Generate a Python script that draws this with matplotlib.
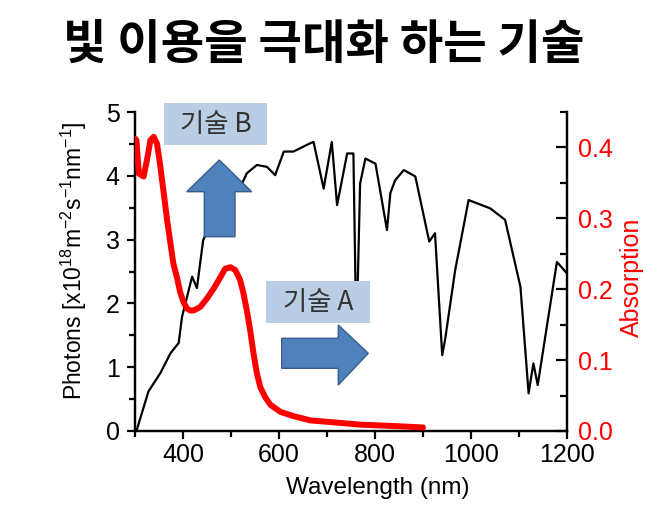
import numpy as np
import matplotlib
matplotlib.use('Agg')
import matplotlib.pyplot as plt
from matplotlib.patches import Polygon, Rectangle
from matplotlib.ticker import MultipleLocator

plt.rcParams['font.family'] = ['Liberation Sans', 'Noto Sans CJK KR']
plt.rcParams['mathtext.fontset'] = 'custom'
plt.rcParams['mathtext.rm'] = 'Liberation Sans'
plt.rcParams['mathtext.default'] = 'regular'

# solar photon flux (black)
wl_photon = [303, 328, 353, 374, 391, 398, 412, 419, 429, 442, 460, 490, 510, 523,
             533, 554, 575, 592, 610, 630, 665, 672, 693, 710, 721, 742, 755, 760,
             764, 769, 780, 801, 825, 832, 842, 860, 884, 913, 925, 940, 946, 967,
             995, 1040, 1071, 1103, 1120, 1130, 1139, 1179, 1200]
photons = [0.0, 0.62, 0.91, 1.22, 1.38, 1.79, 2.21, 2.42, 2.24, 2.99, 3.3, 3.6, 3.8, 3.88,
           4.04, 4.17, 4.14, 4.01, 4.38, 4.38, 4.51, 4.53, 3.80, 4.53, 3.54, 4.35, 4.35, 2.0,
           2.3, 3.88, 4.27, 4.19, 3.15, 3.73, 3.93, 4.09, 3.99, 2.97, 3.10, 1.19, 1.43, 2.52,
           3.62, 3.49, 3.31, 2.26, 0.59, 1.06, 0.72, 2.65, 2.47]

# absorption spectrum (red)
wl_abs = [301, 303, 308, 318, 326, 332, 339, 346, 353, 360, 367, 374, 380, 388, 394,
          401, 408, 415, 422, 436, 450, 464, 478, 488, 499, 509, 519, 526, 533, 540,
          547, 554, 561, 571, 582, 603, 630, 665, 700, 769, 840, 900]
absorption = [0.412, 0.41, 0.363, 0.359, 0.386, 0.410, 0.415, 0.405, 0.372, 0.335, 0.297,
              0.264, 0.236, 0.215, 0.196, 0.182, 0.173, 0.170, 0.170, 0.175, 0.187, 0.201,
              0.217, 0.229, 0.231, 0.227, 0.213, 0.194, 0.170, 0.142, 0.109, 0.081, 0.062,
              0.048, 0.037, 0.027, 0.021, 0.015, 0.013, 0.009, 0.007, 0.005]

title = '빛 이용을 극대화 하는 기술'
box_labels = ['기술 B', '기술 A']

W, H = 670, 514
fig = plt.figure(figsize=(W / 100, H / 100), dpi=100)
ax = fig.add_axes([135 / W, 1 - 431 / H, 432 / W, 319 / H])
ax2 = ax.twinx()

ax.plot(wl_photon, photons, color='black', lw=1.6, zorder=2)
ax2.plot(wl_abs, absorption, color='red', lw=4.3, solid_capstyle='round',
         solid_joinstyle='round', zorder=3)

ax.set_xlim(300, 1200)
ax.set_ylim(0, 5)
ax2.set_ylim(0, 0.45)
ax.xaxis.set_major_locator(MultipleLocator(200))
ax.xaxis.set_minor_locator(MultipleLocator(100))
ax.yaxis.set_major_locator(MultipleLocator(1))
ax.yaxis.set_minor_locator(MultipleLocator(0.5))
ax2.yaxis.set_major_locator(MultipleLocator(0.1))
ax2.yaxis.set_minor_locator(MultipleLocator(0.05))
ax2.yaxis.set_major_formatter(matplotlib.ticker.FormatStrFormatter('%.1f'))

for a in (ax, ax2):
    a.spines['top'].set_visible(False)
    for s in ('left', 'right', 'bottom'):
        a.spines[s].set_linewidth(1.6)

ax.tick_params(axis='x', which='major', direction='out', length=6, width=1.6, labelsize=18, pad=3)
ax.tick_params(axis='x', which='minor', direction='out', length=4, width=1.6)
ax.tick_params(axis='y', which='major', direction='out', length=6, width=1.6, labelsize=18, pad=5)
ax.tick_params(axis='y', which='minor', direction='out', length=4, width=1.6)
ax2.tick_params(axis='y', which='major', direction='in', length=8, width=1.6, labelsize=18,
                labelcolor='red', pad=8)
ax2.tick_params(axis='y', which='minor', direction='in', length=5, width=1.6)

ax.set_xlabel('Wavelength (nm)', fontsize=17.5)
ax.xaxis.set_label_coords((378 - 135) / 432, -(488 - 431) / 319)
ax.xaxis.label.set_va('center')
ax.set_ylabel('Photons [x10$^{18}$m$^{-2}$s$^{-1}$nm$^{-1}$]', fontsize=16.5)
ax.yaxis.set_label_coords(-(135 - 74) / 432, (431 - 261) / 319)
ax.yaxis.label.set_va('center')
ax2.set_ylabel('Absorption', fontsize=18, color='red', rotation=90)
ax2.yaxis.set_label_coords((632 - 135) / 432, (431 - 277) / 319)
ax2.yaxis.label.set_va('center')


def px(x, y):
    return (x / W, 1 - y / H)


box_col = '#b9cde5'
arrow_face = '#4f81bd'
arrow_edge = '#385d8a'
cjk = ['Noto Sans CJK KR', 'DejaVu Sans']

# 기술 B box + up arrow
fig.patches.append(Rectangle(px(164, 145), 103 / W, 42 / H, transform=fig.transFigure,
                             facecolor=box_col, edgecolor='none', zorder=5))
fig.text(*px(215.5, 124), box_labels[0], fontsize=19, color='#333333',
         family=cjk, ha='center', va='center', zorder=6)
up = [px(219.3, 160), px(251.7, 191.7), px(235, 191.7), px(235, 236.7),
      px(204.3, 236.7), px(204.3, 191.7), px(186.7, 191.7)]
fig.patches.append(Polygon(up, closed=True, transform=fig.transFigure,
                           facecolor=arrow_face, edgecolor=arrow_edge, lw=1, zorder=5))

# 기술 A box + right arrow
fig.patches.append(Rectangle(px(266, 323), 104 / W, 42 / H, transform=fig.transFigure,
                             facecolor=box_col, edgecolor='none', zorder=5))
fig.text(*px(318, 302), box_labels[1], fontsize=19, color='#333333',
         family=cjk, ha='center', va='center', zorder=6)
right = [px(281.7, 338.3), px(338.3, 338.3), px(338.3, 325), px(368.3, 353.3),
         px(338.3, 385), px(338.3, 368.3), px(281.7, 368.3)]
fig.patches.append(Polygon(right, closed=True, transform=fig.transFigure,
                           facecolor=arrow_face, edgecolor=arrow_edge, lw=1, zorder=5))

fig.text(*px(324, 45), title, fontsize=34, fontweight='bold',
         family=cjk, ha='center', va='center')

fig.savefig('out.png', dpi=100)
